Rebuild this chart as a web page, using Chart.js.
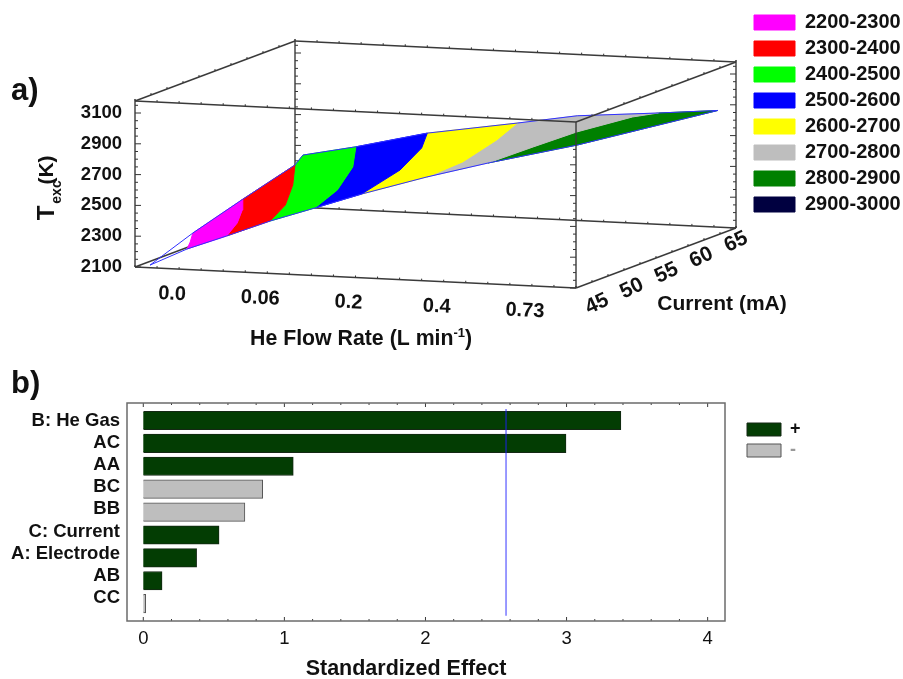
<!DOCTYPE html>
<html>
<head>
<meta charset="utf-8">
<title>Texc surface and standardized effects</title>
<script src="https://cdn.jsdelivr.net/npm/chart.js@4"></script>
<style>
body { margin: 0; background: #fff; }
canvas { position: absolute; left: 0; }
#chartSurface { top: 0; }
#chartPareto { top: 350px; }
</style>
</head>
<body>
<canvas id="chartSurface" width="903" height="350"></canvas>
<canvas id="chartPareto" width="903" height="329"></canvas>
<script>
// a) axes of the 3D box
const flowLabels = ['0.0', '0.06', '0.2', '0.4', '0.73'];   // levels 0..4
const currentLabels = [45, 50, 55, 60, 65];
const tempLabels = [2100, 2300, 2500, 2700, 2900, 3100];
const flowRange = [-0.5, 4.5];
const currentRange = [42.5, 67.5];
const tempRange = [2100, 3178];

// a) iso lines of the surface, [flow level, current, Texc], far side to near side
const iso2200 = [[-0.33, 49.2, 2221], [-0.11, 45.75, 2222], [0.09, 42.5, 2233]];
const iso2300 = [[-0.33, 57, 2319], [-0.1, 53.75, 2306], [0.26, 48, 2321], [0.54, 42.5, 2330]];
const iso2400 = [[-0.33, 65.15, 2414], [0.2, 57.5, 2418], [0.66, 50, 2417], [1.03, 42.5, 2440]];
const iso2500 = [[0.27, 66.4, 2529], [0.79, 58.75, 2531], [1.25, 50, 2531], [1.54, 42.5, 2539]];
const iso2600 = [[1.08, 66.4, 2640], [1.48, 60, 2654], [1.87, 51.25, 2658], [2.07, 42.5, 2644]];
const iso2700 = [[2.1, 66.4, 2733], [2.33, 60, 2729], [2.58, 51.25, 2730], [2.81, 42.5, 2775]];
const iso2800 = [[3.7, 66.4, 2842], [3.6, 63.75, 2855], [3.42, 57.5, 2850], [3.47, 50, 2871], [3.5, 42.5, 2884]];
const cornerStart = [-0.33, 42.5, 2117];
const cornerFarLeft = [-0.33, 66.4, 2459];
const edgeFarMiddle = [2.78, 66.4, 2799];
const cornerFarRight = [4.375, 66.4, 2877];
const cornerNearRight = [3.97, 50, 2897];

const bandNames = ['2200-2300', '2300-2400', '2400-2500', '2500-2600', '2600-2700', '2700-2800', '2800-2900', '2900-3000'];
const bandColors = ['#ff00ff', '#ff0000', '#00ff00', '#0000ff', '#ffff00', '#bebebe', '#008000', '#000040'];

// b) standardized effects
const factorNames = ['B: He Gas', 'AC', 'AA', 'BC', 'BB', 'C: Current', 'A: Electrode', 'AB', 'CC'];
const standardizedEffect = [3.385, 2.996, 1.063, 0.846, 0.72, 0.537, 0.378, 0.133, 0.017];
const effectSign = ['+', '+', '+', '-', '-', '+', '+', '+', '-'];
const criticalEffect = 2.571;

Chart.defaults.font.family = '"Liberation Sans", Arial, sans-serif';
Chart.defaults.color = '#111';
Chart.defaults.animation = false;

// oblique view of the box, the result is in canvas units
function project(flow, current, temp) {
    const f = (flow - flowRange[0]) / (flowRange[1] - flowRange[0]);
    const c = (current - currentRange[0]) / (currentRange[1] - currentRange[0]);
    return {
        x: 135 + 441 * f + 160 * c,
        y: 267 + 21 * f - 60 * c - 0.154 * (temp - 2100)
    };
}

function toPath(points) {
    return points.map(p => project(p[0], p[1], p[2]));
}

function writeText(ctx, text, x, y, font, align, angle) {
    ctx.save();
    ctx.translate(x, y);
    ctx.rotate(angle || 0);
    ctx.font = font;
    ctx.fillStyle = '#111';
    ctx.textAlign = align || 'center';
    ctx.textBaseline = 'middle';
    ctx.fillText(text, 0, 0);
    ctx.restore();
}

// legend is placed by hand, it sits next to the box and not in a layout slot
// the legend clips to its own box so right and bottom have to follow
function moveLegend(left, top) {
    return {
        id: 'moveLegend',
        afterLayout(chart) {
            chart.legend.left = left;
            chart.legend.top = top;
            chart.legend.right = chart.width;
            chart.legend.bottom = chart.height;
        }
    };
}

const [F0, F1] = flowRange;
const [C0, C1] = currentRange;
const [T0, T1] = tempRange;

const frontEdges = [
    [[F0, C0, T1], [F1, C0, T1]], [[F1, C0, T1], [F1, C0, T0]], [[F0, C0, T1], [F0, C0, T0]],
    [[F0, C0, T0], [F1, C0, T0]], [[F1, C0, T1], [F1, C1, T1]], [[F1, C0, T0], [F1, C1, T0]],
    [[F1, C1, T0], [F1, C1, T1]], [[F0, C0, T1], [F0, C1, T1]], [[F0, C1, T1], [F1, C1, T1]]
];
const backEdges = [
    [[F0, C1, T1], [F0, C1, T0]], [[F0, C0, T0], [F0, C1, T0]], [[F0, C1, T0], [F1, C1, T0]]
];

function edgeDataset(edge, order) {
    return {
        data: toPath(edge), showLine: true, pointRadius: 0, borderColor: '#3a3a3a', borderWidth: 1.4, order: order
    };
}

function bandDataset(i, points) {
    return {
        label: bandNames[i],
        data: toPath(points.length ? points.concat([points[0]]) : []),
        showLine: true, pointRadius: 0, tension: 0, fill: 'shape',
        backgroundColor: bandColors[i], borderColor: bandColors[i], borderWidth: 1, order: 2
    };
}

const rev = a => a.slice().reverse();
const bandPoints = [
    iso2200.concat(rev(iso2300)),
    iso2300.concat(rev(iso2400)),
    iso2400.concat(rev(iso2500), [cornerFarLeft]),
    iso2500.concat(rev(iso2600)),
    iso2600.concat(rev(iso2700)),
    iso2700.concat(rev(iso2800), [edgeFarMiddle]),
    iso2800.concat([cornerNearRight, cornerFarRight]),
    []
];

const isoLines = [iso2200, iso2300, iso2400, iso2500, iso2600, iso2700, iso2800];
const outlinePoints = [cornerStart]
    .concat(isoLines.slice(0, 3).map(l => l[0]), [cornerFarLeft], isoLines.slice(3, 6).map(l => l[0]),
        [edgeFarMiddle, iso2800[0], cornerFarRight, cornerNearRight],
        rev(isoLines).map(l => l[l.length - 1]), [cornerStart]);

// small marks along the edges of the box
const boxTicks = {
    id: 'boxTicks',
    beforeDatasetsDraw(chart) {
        const ctx = chart.ctx;
        ctx.save();
        ctx.strokeStyle = '#333';
        ctx.lineWidth = 1;
        function mark(p, dx, dy) {
            ctx.beginPath();
            ctx.moveTo(p.x, p.y);
            ctx.lineTo(p.x + dx, p.y + dy);
            ctx.stroke();
        }
        const verticals = [[F0, C0, 1], [F0, C1, 1], [F1, C0, -1], [F1, C1, -1]];
        verticals.forEach(v => {
            for (let t = T0; t <= T1; t += 50) {
                mark(project(v[0], v[1], t), v[2] * ((t - T0) % 200 === 0 ? 6 : 3), 0);
            }
        });
        [[C0, T0], [C0, T1], [C1, T0], [C1, T1]].forEach(e => {
            for (let l = F0; l <= F1; l += 0.25) {
                mark(project(l, e[0], e[1]), 0, -2);
            }
        });
        [[F0, T1], [F1, T0], [F1, T1]].forEach(e => {
            for (let m = C0; m <= C1; m += 2.5) {
                mark(project(e[0], m, e[1]), 0, -2);
            }
        });
        ctx.restore();
    },
    afterDatasetsDraw(chart) {
        const ctx = chart.ctx;
        writeText(ctx, 'a)', 11, 91, 'bold 31px "Liberation Sans"', 'left');
        tempLabels.forEach(t => {
            const p = project(F0, C0, t);
            writeText(ctx, String(t), 122, p.y, 'bold 18.5px "Liberation Sans"', 'right');
        });
        flowLabels.forEach((s, i) => {
            const p = project(i, C0, T0);
            writeText(ctx, s, p.x - 7, p.y + 25, 'bold 20px "Liberation Sans"', 'center', 0.05);
        });
        currentLabels.forEach((m, i) => {
            const p = project(F1, m, T0);
            writeText(ctx, String(m), p.x + 5 + 2.75 * i, p.y + 22 - 3.5 * i, 'bold 21px "Liberation Sans"', 'center', -0.44);
        });
        writeText(ctx, 'Current (mA)', 722, 304, 'bold 21px "Liberation Sans"');

        // axis titles with a sub and a superscript
        writeText(ctx, 'T', 47, 213, 'bold 24px "Liberation Sans"', 'center', -Math.PI / 2);
        writeText(ctx, 'exc', 57, 192, 'bold 14px "Liberation Sans"', 'center', -Math.PI / 2);
        writeText(ctx, '(K)', 47, 170, 'bold 21px "Liberation Sans"', 'center', -Math.PI / 2);
        const flowFont = 'bold 21.3px "Liberation Sans"';
        const supFont = 'bold 13px "Liberation Sans"';
        ctx.font = flowFont;
        let x = 250;
        writeText(ctx, 'He Flow Rate (L min', x, 339, flowFont, 'left');
        x += ctx.measureText('He Flow Rate (L min').width;
        writeText(ctx, '-1', x, 333, supFont, 'left');
        ctx.font = supFont;
        x += ctx.measureText('-1').width;
        writeText(ctx, ')', x, 339, flowFont, 'left');
    }
};

new Chart(document.getElementById('chartSurface'), {
    type: 'scatter',
    data: {
        datasets: [
            ...bandPoints.map((p, i) => bandDataset(i, p)),
            { data: toPath(outlinePoints), showLine: true, pointRadius: 0, borderColor: '#3030ff', borderWidth: 1, order: 1 },
            ...frontEdges.map(e => edgeDataset(e, 0)),
            ...backEdges.map(e => edgeDataset(e, 3))
        ]
    },
    options: {
        responsive: false,
        events: [],
        layout: { padding: 0 },
        scales: {
            x: { type: 'linear', display: false, min: 0, max: 903 },
            y: { type: 'linear', display: false, min: 0, max: 350, reverse: true }
        },
        plugins: {
            tooltip: { enabled: false },
            legend: {
                position: 'chartArea',
                align: 'start',
                labels: {
                    boxWidth: 41,
                    boxHeight: 15,
                    padding: 6,
                    font: { size: 20, weight: 'bold' },
                    filter: item => !!item.text
                }
            }
        }
    },
    plugins: [moveLegend(748, 6.5), boxTicks]
});

// frame of the effects plot, ticks point inwards on top and bottom
const frameTicks = {
    id: 'frameTicks',
    afterDatasetsDraw(chart) {
        const ctx = chart.ctx;
        const area = chart.chartArea;
        ctx.save();
        ctx.strokeStyle = '#3a3a3a';
        ctx.lineWidth = 1;
        chart.scales.x.ticks.forEach(t => {
            const px = chart.scales.x.getPixelForValue(t.value);
            const len = Number.isInteger(Math.round(t.value * 1000) / 1000) ? 4 : 2;
            ctx.beginPath();
            ctx.moveTo(px, area.top);
            ctx.lineTo(px, area.top + len);
            ctx.moveTo(px, area.bottom);
            ctx.lineTo(px, area.bottom - len);
            ctx.stroke();
        });
        ctx.strokeStyle = '#6b6b6b';
        ctx.lineWidth = 1.5;
        ctx.strokeRect(area.left, area.top, area.right - area.left, area.bottom - area.top);
        ctx.restore();
        writeText(ctx, 'b)', 11, 34, 'bold 31px "Liberation Sans"', 'left');
        // the title sits left of the plot centre in the original
        writeText(ctx, 'Standardized Effect', 406, 319, 'bold 21.5px "Liberation Sans"');
    }
};

function effectDataset(sign, color, border) {
    const points = [];
    factorNames.forEach((name, i) => {
        if (effectSign[i] === sign) points.push({ x: standardizedEffect[i], y: i + 1 });
    });
    return {
        type: 'bar', label: sign, data: points, indexAxis: 'y', grouped: false,
        barThickness: 18.5, backgroundColor: color, borderColor: border, borderWidth: 1, xAxisID: 'x', yAxisID: 'y'
    };
}

new Chart(document.getElementById('chartPareto'), {
    type: 'bar',
    data: {
        datasets: [
            {
                type: 'scatter', data: [{ x: criticalEffect, y: 0.498 }, { x: criticalEffect, y: 9.524 }],
                showLine: true, pointRadius: 0, borderColor: 'rgba(30,30,255,0.6)', borderWidth: 1.5,
                xAxisID: 'x', yAxisID: 'y', order: 0
            },
            Object.assign(effectDataset('+', '#033d03', '#142814'), { order: 1 }),
            Object.assign(effectDataset('-', '#bebebe', '#555'), { order: 1 })
        ]
    },
    options: {
        responsive: false,
        events: [],
        indexAxis: 'y',
        layout: { padding: { top: 53, right: 178 } },
        scales: {
            x: {
                type: 'linear', position: 'bottom', min: -0.1155, max: 4.123,
                grid: { display: false, drawTicks: false },
                border: { display: false },
                afterFit: s => { s.height = 58; },
                ticks: {
                    stepSize: 0.2, includeBounds: false, autoSkip: false, maxRotation: 0, padding: 7,
                    font: { size: 18.5 },
                    callback: v => Number.isInteger(Math.round(v * 1000) / 1000) ? String(Math.round(v)) : ''
                }
            },
            y: {
                type: 'linear', display: false, reverse: true, offset: false, min: 0.236, max: 9.756,
                grid: { offset: false }
            },
            names: {
                type: 'linear', axis: 'y', position: 'left', reverse: true, offset: false, min: 0.186, max: 10.05,
                grid: { display: false, drawTicks: false, offset: false },
                border: { display: false },
                afterFit: s => { s.width = 127; },
                ticks: {
                    stepSize: 1, includeBounds: false, autoSkip: false, padding: 7,
                    font: { size: 18.5, weight: 'bold' },
                    callback: v => factorNames[Math.round(v) - 1] || ''
                }
            }
        },
        plugins: {
            tooltip: { enabled: false },
            legend: {
                position: 'chartArea',
                align: 'start',
                labels: {
                    boxWidth: 34,
                    boxHeight: 13,
                    padding: 3,
                    font: { size: 18, weight: 'bold' },
                    filter: item => !!item.text,
                    generateLabels(chart) {
                        return Chart.defaults.plugins.legend.labels.generateLabels(chart).map(item => {
                            if (item.text === '-') item.fontColor = '#999';
                            return item;
                        });
                    }
                }
            }
        }
    },
    plugins: [moveLegend(744, 67.5), frameTicks]
});
</script>
</body>
</html>
